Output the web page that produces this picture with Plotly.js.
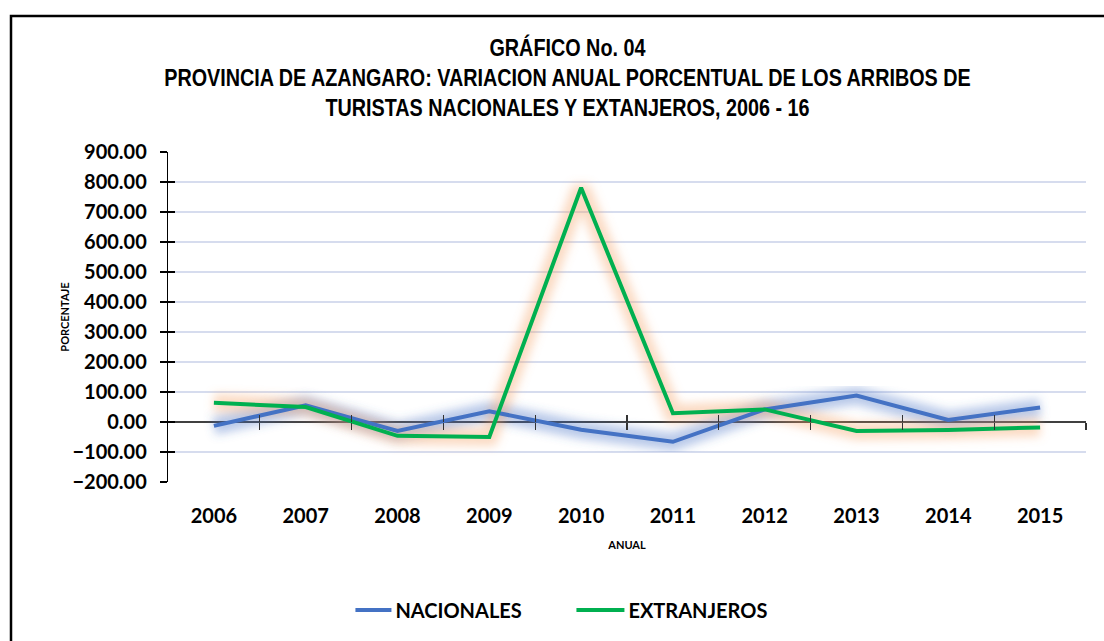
<!DOCTYPE html>
<html>
<head>
<meta charset="utf-8">
<script src="https://cdn.plot.ly/plotly-3.0.1.min.js"></script>
<style>
  html, body { margin: 0; padding: 0; background: #fff; }
  #chart { width: 1104px; height: 641px; }
</style>
</head>
<body>
<div id="chart"></div>
<script>
// ---- Data ----
const years = ['2006', '2007', '2008', '2009', '2010', '2011', '2012', '2013', '2014', '2015'];
const nacionales = [-13, 56, -30, 36, -26, -66, 42, 88, 7, 48];
const extranjeros = [64, 50, -46, -50, 781, 29, 42, -30, -27, -18];
const seriesNames = ['NACIONALES', 'EXTRANJEROS'];
const yRange = [-200, 900];

const titleText = 'GRÁFICO No. 04<br>PROVINCIA DE AZANGARO: VARIACION ANUAL PORCENTUAL DE LOS ARRIBOS DE<br>TURISTAS NACIONALES Y EXTANJEROS, 2006 - 16';

// ---- Styles ----
const blue = '#4472C4';
const green = '#00B050';
const tickFont = { family: 'Lato, "Open Sans", sans-serif', size: 20, color: '#000', weight: 700 };

const W = 1104, H = 641;
const M = { l: 168, r: 18, t: 152, b: 159 };
const plotW = W - M.l - M.r, plotH = H - M.t - M.b;
const px2x = p => (p - M.l) / plotW;
const px2y = p => (H - M.b - p) / plotH;

const idx = years.map((_, i) => i);
const boundaries = years.map((_, i) => i + 0.5);
const zeroFrac = (0 - yRange[0]) / (yRange[1] - yRange[0]);
const xr = [-0.5, years.length - 0.5];

const traces = [
  // soft glows (main subplot, underneath)
  { x: idx, y: nacionales, type: 'scatter', mode: 'lines', showlegend: false, hoverinfo: 'skip',
    xaxis: 'x', yaxis: 'y', line: { color: 'rgba(68,114,196,0.38)', width: 18 } },
  { x: idx, y: extranjeros, type: 'scatter', mode: 'lines', showlegend: false, hoverinfo: 'skip',
    xaxis: 'x', yaxis: 'y', line: { color: 'rgba(244,160,100,0.38)', width: 18 } },
  // the series (overlay subplots, on top)
  { x: idx, y: nacionales, type: 'scatter', mode: 'lines', name: seriesNames[0],
    xaxis: 'x2', yaxis: 'y2', line: { color: blue, width: 4 } },
  { x: idx, y: extranjeros, type: 'scatter', mode: 'lines', name: seriesNames[1],
    xaxis: 'x3', yaxis: 'y2', line: { color: green, width: 4 } }
];

const layout = {
  width: W, height: H,
  margin: M,
  paper_bgcolor: '#fff', plot_bgcolor: '#fff',
  title: {
    text: titleText,
    font: { family: '"Liberation Sans", Arial, sans-serif', size: 23, color: '#000', weight: 700 },
    xref: 'container', x: 0.514, xanchor: 'center',
    yref: 'container', y: 1 - 56 / H, yanchor: 'middle'
  },
  xaxis: {
    type: 'linear', range: xr,
    tickvals: idx, ticktext: years,
    showgrid: false, zeroline: false, showline: false, ticks: '',
    tickfont: tickFont, ticklabelstandoff: 20,
    title: { text: 'ANUAL', font: { family: 'Lato, sans-serif', size: 11, color: '#000', weight: 700 }, standoff: 15 }
  },
  xaxis2: {
    overlaying: 'x', anchor: 'free', position: zeroFrac,
    type: 'linear', range: xr,
    tickvals: boundaries, showticklabels: false, showgrid: false, zeroline: false, showline: false,
    ticks: 'outside', ticklen: 7, tickcolor: '#333', tickwidth: 1.3
  },
  xaxis3: {
    overlaying: 'x', anchor: 'free', position: zeroFrac,
    type: 'linear', range: xr,
    tickvals: boundaries, showticklabels: false, showgrid: false, zeroline: false, showline: false,
    ticks: 'inside', ticklen: 7, tickcolor: '#333', tickwidth: 1.3
  },
  yaxis: {
    range: yRange, dtick: 100, tickformat: '.2f',
    showgrid: true, gridcolor: '#d6dcee', gridwidth: 1.3,
    zeroline: true, zerolinecolor: '#404040', zerolinewidth: 1.5,
    showline: true, linecolor: '#000', linewidth: 1.2,
    ticks: 'outside', ticklen: 7, tickcolor: '#000', tickwidth: 1.2,
    tickfont: tickFont, ticklabelstandoff: 9,
    title: { text: 'PORCENTAJE', font: { family: 'Lato, sans-serif', size: 11, color: '#000', weight: 700 }, standoff: 0 }
  },
  yaxis2: {
    overlaying: 'y', anchor: 'x', range: yRange, dtick: 100, side: 'left',
    showticklabels: false, showgrid: false, zeroline: false, showline: false,
    ticks: 'inside', ticklen: 7, tickcolor: '#000', tickwidth: 1.2
  },
  legend: {
    orientation: 'h',
    xref: 'container', x: 0.533, xanchor: 'center',
    yref: 'container', y: 1 - 610 / H, yanchor: 'middle',
    font: { family: 'Lato, sans-serif', size: 20, color: '#000', weight: 700 },
    entrywidth: 188, traceorder: 'normal'
  },
  shapes: [{
    type: 'rect', xref: 'paper', yref: 'paper',
    x0: px2x(11), x1: px2x(W + 20), y0: px2y(H + 20), y1: px2y(16),
    line: { color: '#000', width: 2.5 }, fillcolor: 'rgba(0,0,0,0)', layer: 'above'
  }],
  showlegend: true
};

const gd = document.getElementById('chart');
Plotly.newPlot(gd, traces, layout, { displayModeBar: false, staticPlot: true }).then(() => {
  const svg = gd.querySelector('.main-svg');
  const ns = 'http://www.w3.org/2000/svg';
  let defs = svg.querySelector('defs');
  if (!defs) { defs = document.createElementNS(ns, 'defs'); svg.insertBefore(defs, svg.firstChild); }
  const f = document.createElementNS(ns, 'filter');
  f.setAttribute('id', 'softglow');
  f.setAttribute('x', '-20%'); f.setAttribute('y', '-20%');
  f.setAttribute('width', '140%'); f.setAttribute('height', '140%');
  const b = document.createElementNS(ns, 'feGaussianBlur');
  b.setAttribute('stdDeviation', '5');
  f.appendChild(b);
  defs.appendChild(f);
  const tr = gd.querySelectorAll('.scatterlayer .trace');
  [0, 1].forEach(i => { if (tr[i]) tr[i].setAttribute('filter', 'url(#softglow)'); });

  // narrow the title (reference uses a condensed face)
  const t = gd.querySelector('.gtitle');
  if (t) {
    const cx = parseFloat(t.getAttribute('x')) || W / 2;
    const prev = t.getAttribute('transform') || '';
    t.setAttribute('transform', prev + ` translate(${cx},0) scale(0.86,1) translate(${-cx},0)`);
  }
  // longer legend line samples, like the reference
  gd.querySelectorAll('.legend .legendlines path').forEach(p => {
    p.setAttribute('d', 'M-12,0h48');
  });
});
</script>
</body>
</html>
